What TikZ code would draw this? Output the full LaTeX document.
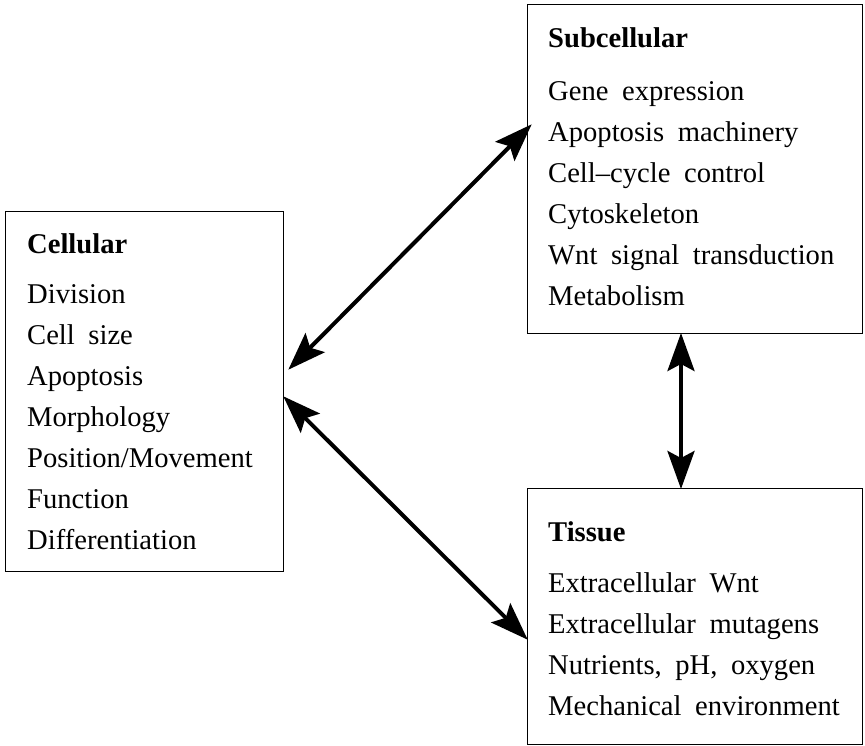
\documentclass[tikz,border=0pt]{standalone}
\usepackage{fontspec}
\setmainfont[WordSpace=1.9]{Liberation Serif}
\usetikzlibrary{arrows.meta,calc}
\begin{document}
\begin{tikzpicture}[x=1pt,y=-1pt,
  box/.style={draw, line width=1pt, anchor=north west, inner sep=0pt},
  lbl/.style={anchor=base west, inner sep=0pt, font=\fontsize{28.6}{34}\selectfont},
  ttl/.style={lbl, font=\fontsize{28.6}{34}\selectfont\bfseries},
  tip/.style={Stealth[length=38pt,width=27pt,inset=7pt]},
  conn/.style={line width=4pt, {Stealth[length=38pt,width=27pt,inset=7pt]}-{Stealth[length=38pt,width=27pt,inset=7pt]}, shorten <=-1pt, shorten >=-1pt}]
\useasboundingbox (0,0) rectangle (865,745);
% boxes
\node[box, minimum width=278pt, minimum height=360pt] (cell) at (5,211) {};
\node[box, minimum width=335pt, minimum height=329pt] (sub) at (527,4) {};
\node[box, minimum width=335pt, minimum height=256pt] (tis) at (527,488) {};
% Cellular
\node[ttl] (c0) at (27,253) {Cellular};
\node[lbl] (c1) at (27,303) {Division};
\node[lbl] (c2) at (27,344) {Cell size};
\node[lbl] (c3) at (27,385) {Apoptosis};
\node[lbl] (c4) at (27,426) {Morphology};
\node[lbl] (c5) at (27,467) {Position/Movement};
\node[lbl] (c6) at (27,508) {Function};
\node[lbl] (c7) at (27,549) {Differentiation};
% Subcellular
\node[ttl] (s0) at (548,47) {Subcellular};
\node[lbl] (s1) at (548,100) {Gene expression};
\node[lbl] (s2) at (548,141) {Apoptosis machinery};
\node[lbl] (s3) at (548,182) {Cell--cycle control};
\node[lbl] (s4) at (548,223) {Cytoskeleton};
\node[lbl] (s5) at (548,264) {Wnt signal transduction};
\node[lbl] (s6) at (548,305) {Metabolism};
% Tissue
\node[ttl] (t0) at (548,541) {Tissue};
\node[lbl] (t1) at (548,592) {Extracellular Wnt};
\node[lbl] (t2) at (548,633) {Extracellular mutagens};
\node[lbl] (t3) at (548,674) {Nutrients, pH, oxygen};
\node[lbl] (t4) at (548,715) {Mechanical environment};
% connector end points
\coordinate (a1) at ($(sub.north west)+(4,121)$);
\coordinate (a2) at ($(cell.north east)+(5,158)$);
\coordinate (b1) at ($(cell.north east)+(0,186)$);
\coordinate (b2) at ($(tis.north west)+(0,151)$);
\coordinate (v1) at ($(sub.south west)+(154,0)$);
\coordinate (v2) at ($(tis.north west)+(154,0)$);
\draw[conn] (a1) -- (a2);
\draw[conn] (b1) -- (b2);
\draw[conn] (v1) -- (v2);
\end{tikzpicture}
\end{document}
